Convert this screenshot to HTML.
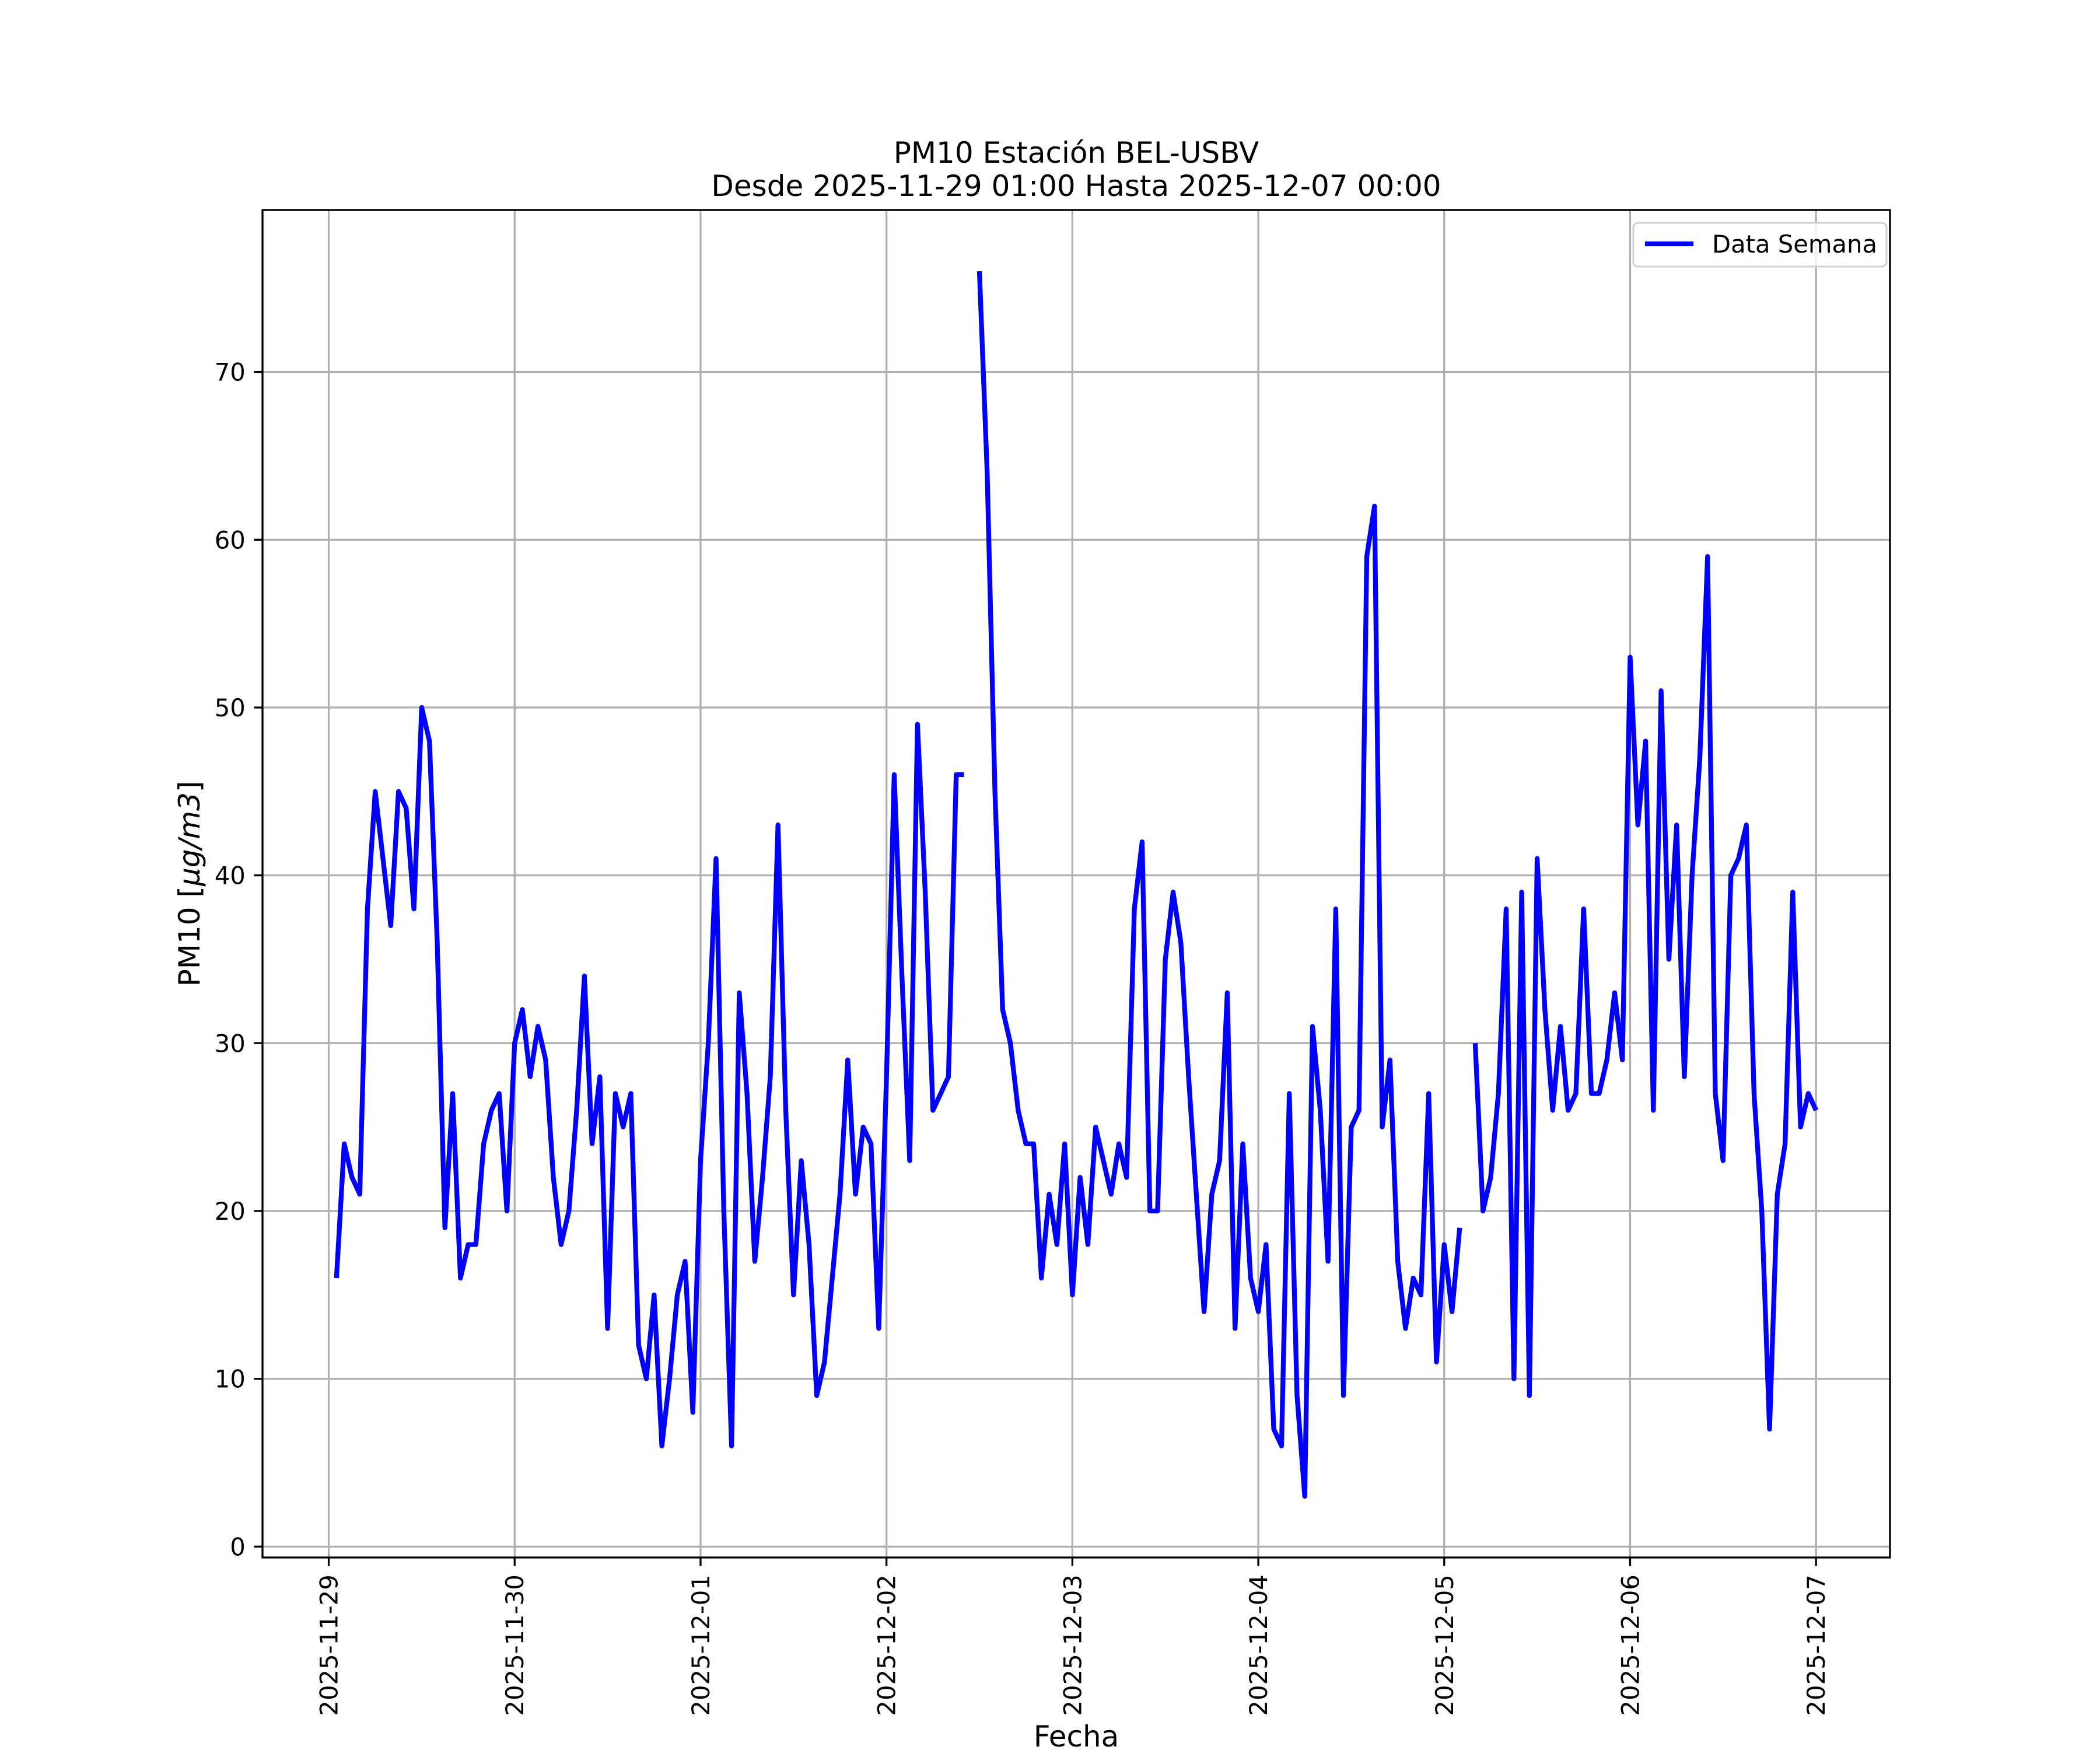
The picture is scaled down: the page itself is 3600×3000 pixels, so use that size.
<!DOCTYPE html>
<html><head><meta charset="utf-8"><style>
html,body{margin:0;padding:0;background:#fff;}
svg{display:block;font-family:"DejaVu Sans","Liberation Sans",sans-serif;}
</style></head><body>
<svg id="chart" width="3600" height="3000" viewBox="0 0 3600 3000" xmlns="http://www.w3.org/2000/svg">
<rect x="0" y="0" width="3600" height="3000" fill="#fff"/>
<text x="1845" y="279" font-size="50" text-anchor="middle">PM10 Estación BEL-USBV</text>
<text x="1845" y="336" font-size="50" text-anchor="middle">Desde 2025-11-29 01:00 Hasta 2025-12-07 00:00</text>
<g id="grid"></g>
<g id="series"></g>
<rect x="450" y="360" width="2790" height="2310" fill="none" stroke="#000" stroke-width="3.3"/>
<g id="ticks"></g>
<text transform="translate(342,1515) rotate(-90)" font-size="50" text-anchor="middle">PM10 [<tspan font-style="italic">μg/m3</tspan>]</text>
<text x="1845" y="2994" font-size="50" text-anchor="middle">Fecha</text>
<g>
<rect x="2800" y="382" width="434" height="75" rx="8" fill="#fff" fill-opacity="0.8" stroke="#d0d0d0" stroke-width="3"/>
<line x1="2820" y1="418" x2="2903" y2="418" stroke="#0000ff" stroke-width="8.3"/>
<text x="2935" y="433" font-size="41.7">Data Semana</text>
</g>
</svg>
<script>
const dayLabels = ["2025-11-29","2025-11-30","2025-12-01","2025-12-02","2025-12-03","2025-12-04","2025-12-05","2025-12-06","2025-12-07"];
const yTicks = [0,10,20,30,40,50,60,70];
const startHour = 1;
const d1129 = [16,24,22,21,38,45,41,37,45,44,38,50,48,36,19,27,16,18,18,24,26,27,20];
const d1130 = [30,32,28,31,29,22,18,20,26,34,24,28,13,27,25,27,12,10,15,6,10,15,17,8];
const d1201 = [23,30,41,20,6,33,27,17,22,28,43,26,15,23,18,9,11,16,21,29,21,25,24,13];
const d1202 = [28,46,34,23,49,39,26,27,28,46,46,null,76,64,45,32,30,26,24,24,16,21,18,24];
const d1203 = [15,22,18,25,23,21,24,22,38,42,20,20,35,39,36,28,21,14,21,23,33,13,24,16];
const d1204 = [14,18,7,6,27,9,3,31,26,17,38,9,25,26,59,62,25,29,17,13,16,15,27,11];
const d1205 = [18,14,19,null,30,20,22,27,38,10,39,9,41,32,26,31,26,27,38,27,27,29,33,29];
const d1206 = [53,43,48,26,51,35,43,28,40,47,59,27,23,40,41,43,27,20,7,21,24,39,25,27];
const d1207 = [26];
const values = [].concat(d1129,d1130,d1201,d1202,d1203,d1204,d1205,d1206,d1207);

const NS = "http://www.w3.org/2000/svg";
const L=450,R=3240,T=360,B=2670;
const TL=14.6, PAD=14.6;
const first=startHour/24, last=first+(values.length-1)/24;
const span=last-first, xmin=first-0.05*span, xmax=last+0.05*span;
const ymin=-0.65, ymax=79.65;
const xs=d=>L+(d-xmin)/(xmax-xmin)*(R-L);
const ys=v=>B-(v-ymin)/(ymax-ymin)*(B-T);
function mk(tag,attrs,parent){const e=document.createElementNS(NS,tag);for(const k in attrs)e.setAttribute(k,attrs[k]);parent.appendChild(e);return e;}
const grid=document.getElementById('grid'),ticks=document.getElementById('ticks'),series=document.getElementById('series');
dayLabels.forEach((lab,i)=>{
  const x=xs(i);
  const g=mk('line',{x1:x,y1:T,x2:x,y2:B,stroke:'#b0b0b0','stroke-width':3.3},grid);
  
  
  const t=mk('line',{x1:x,y1:B,x2:x,y2:B+TL,stroke:'#000','stroke-width':3.3},ticks);
  
  
  const tx=mk('text',{transform:`translate(${x+15},${B+TL+PAD}) rotate(-90)`,'font-size':41.7,'text-anchor':'end'},ticks);
  tx.textContent=lab;
  
  
});
yTicks.forEach(v=>{
  const y=ys(v);
  const g=mk('line',{x1:L,y1:y,x2:R,y2:y,stroke:'#b0b0b0','stroke-width':3.3},grid);
  
  
  const t=mk('line',{x1:L-TL,y1:y,x2:L,y2:y,stroke:'#000','stroke-width':3.3},ticks);
  
  
  const tx=mk('text',{x:L-TL-PAD,y:y+15,'font-size':41.7,'text-anchor':'end'},ticks);
  tx.textContent=String(v);
  
  
});
let d='',pen=false;
values.forEach((v,i)=>{
  if(v===null){pen=false;return;}
  const x=xs(first+i/24),y=ys(v);
  d+=(pen?'L':'M')+x.toFixed(1)+' '+y.toFixed(1)+' ';pen=true;
});
const p=mk('path',{d:d,fill:'none',stroke:'#0000ff','stroke-width':8.3,'stroke-linejoin':'round','stroke-linecap':'butt'},series);


</script>
</body></html>
